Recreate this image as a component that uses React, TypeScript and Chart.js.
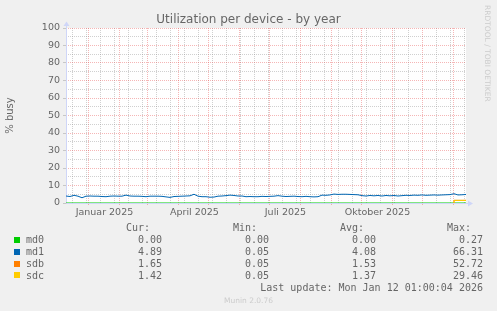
import { useEffect, useRef } from 'react';
import { Chart, registerables } from 'chart.js';

Chart.register(...registerables);

// ---------- data ----------
const titleText = 'Utilization per device - by year';
const yAxisTitle = '% busy';
const yMin = 0;
const yMax = 100;
const yStep = 5;

// x axis: days counted from 2024-12-08 01:00 (400 days window ending 2026-01-12 01:00)
const xMinDay = 1;
const xMaxDay = 401;
const xLabels = ['Januar 2025', 'April 2025', 'Juli 2025', 'Oktober 2025'];
const xLabelMonths: [number, number][] = [[2025, 0], [2025, 3], [2025, 6], [2025, 9]];
const gridMonths: [number, number][] = [
  [2025, 0], [2025, 1], [2025, 2], [2025, 3], [2025, 4], [2025, 5], [2025, 6],
  [2025, 7], [2025, 8], [2025, 9], [2025, 10], [2025, 11], [2026, 0],
];
const firstMinorMonday: [number, number, number] = [2024, 11, 16];
const minorEveryDays = 14;

// md1: one sample every 4 days starting at day 1
const md1Step = 4;
const md1Values = [
  4.0, 3.7, 4.4, 3.9, 3.0, 3.9, 4.0, 3.9, 3.9, 3.7,
  3.6, 3.9, 4.0, 3.9, 3.9, 4.5, 4.0, 3.9, 3.9, 3.8,
  3.6, 3.9, 3.9, 3.9, 3.8, 3.5, 3.2, 3.7, 3.8, 3.9,
  4.0, 4.1, 5.0, 3.9, 3.6, 3.6, 3.3, 3.4, 3.9, 4.0,
  4.2, 4.5, 4.3, 4.0, 4.0, 3.6, 3.7, 3.6, 3.6, 3.8,
  3.7, 3.8, 3.9, 4.2, 3.9, 3.7, 3.8, 3.9, 3.7, 3.6,
  3.8, 3.6, 3.5, 3.6, 4.5, 4.4, 4.6, 5.1, 4.9, 5.0,
  5.0, 4.9, 4.8, 4.7, 4.2, 4.0, 4.3, 4.1, 4.3, 4.0,
  4.3, 4.1, 4.3, 4.0, 4.2, 4.4, 4.3, 4.5, 4.4, 4.6,
  4.4, 4.5, 4.6, 4.5, 4.6, 4.7, 4.8, 5.3, 4.6, 4.7,
  4.89,
];
const md0Days = [1, 401];
const md0Values = [0, 0];
const sdbDays = [389, 389, 393, 397, 401];
const sdbValues = [0, 1.52, 1.52, 1.52, 1.55];
const sdcDays = [389, 389, 393, 397, 401];
const sdcValues = [0, 1.5, 1.5, 1.5, 1.45];

const seriesNames = ['md0', 'md1', 'sdb', 'sdc'];
const seriesColors = ['#00CC00', '#0066B3', '#FF8000', '#FFCC00'];
const curValues = [0.0, 4.89, 1.65, 1.42];
const minValues = [0.0, 0.05, 0.05, 0.05];
const avgValues = [0.0, 4.08, 1.53, 1.37];
const maxValues = [0.27, 66.31, 52.72, 29.46];
const lastUpdate = 'Last update: Mon Jan 12 01:00:04 2026';
const footer = 'Munin 2.0.76';
const sideText = 'RRDTOOL / TOBI OETIKER';

// ---------- helpers ----------
const START = Date.UTC(2024, 11, 8, 1, 0, 0);
const dayOf = (y: number, m: number, d: number) => (Date.UTC(y, m, d) - START) / 86400000;

const GRID = 'rgba(143,143,143,0.42)';
const MGRID = 'rgba(231,80,80,0.42)';
const AXIS = '#CFD6F8';
const FONT_COLOR = '#666666';

const axesPlugin = {
  id: 'rrdFrame',
  beforeDraw(chart: any) {
    const { ctx, chartArea } = chart;
    const { left, top, right, bottom } = chartArea;
    ctx.save();
    ctx.fillStyle = '#ffffff';
    ctx.fillRect(left, top, right - left, bottom - top);
    ctx.restore();
  },
  beforeDatasetsDraw(chart: any) {
    const { ctx, chartArea } = chart;
    const { left, top, right, bottom } = chartArea;
    const x0 = Math.round(left) + 0.5;
    const y0 = Math.round(bottom) + 0.5;
    ctx.save();
    ctx.strokeStyle = AXIS;
    ctx.fillStyle = AXIS;
    ctx.lineWidth = 1;
    ctx.beginPath();
    ctx.moveTo(x0, y0);
    ctx.lineTo(x0, top - 3);
    ctx.moveTo(x0, y0);
    ctx.lineTo(right + 3, y0);
    ctx.stroke();
    ctx.beginPath();
    ctx.moveTo(x0 - 3, top - 2);
    ctx.lineTo(x0 + 3, top - 2);
    ctx.lineTo(x0, top - 6.5);
    ctx.closePath();
    ctx.fill();
    ctx.beginPath();
    ctx.moveTo(right + 2, y0 - 3);
    ctx.lineTo(right + 2, y0 + 3);
    ctx.lineTo(right + 7, y0);
    ctx.closePath();
    ctx.fill();
    ctx.restore();
  },
};

export default function App() {
  const ref = useRef<HTMLCanvasElement>(null);

  useEffect(() => {
    const canvas = ref.current;
    if (!canvas) return;
    Chart.defaults.font.family = "'DejaVu Sans', sans-serif";

    const md1Days = md1Values.map((_, i) => xMinDay + md1Step * i);
    const pts = (xs: number[], ys: number[]) => ys.map((y, i) => ({ x: xs[i], y }));

    const majorDays = gridMonths.map(([y, m]) => dayOf(y, m, 1));
    const minorDays: number[] = [];
    for (let d = dayOf(...firstMinorMonday); d <= xMaxDay; d += minorEveryDays) minorDays.push(d);
    const gridTicks = [
      ...minorDays.filter((d) => !majorDays.some((m) => Math.abs(m - d) < 0.5)).map((v) => ({ value: v, major: false })),
      ...majorDays.map((v) => ({ value: v, major: true })),
    ].sort((a, b) => a.value - b.value);
    const labelDays = xLabelMonths.map(([y, m]) => dayOf(y, m, 1) + 15.5);

    const lineDs = (i: number, data: { x: number; y: number }[], order: number) => ({
      label: seriesNames[i],
      data,
      borderColor: seriesColors[i],
      backgroundColor: seriesColors[i],
      borderWidth: 1,
      pointRadius: 0,
      fill: false,
      tension: 0,
      order,
    });

    const chart = new Chart(canvas, {
      type: 'line',
      data: {
        datasets: [
          lineDs(0, pts(md0Days, md0Values), 3),
          lineDs(1, pts(md1Days, md1Values), 2),
          lineDs(2, pts(sdbDays, sdbValues), 1),
          lineDs(3, pts(sdcDays, sdcValues), 0),
        ],
      },
      options: {
        animation: false,
        responsive: false,
        maintainAspectRatio: false,
        devicePixelRatio: 1,
        layout: { padding: { left: 0, top: 28, right: 31, bottom: 88 } },
        plugins: { legend: { display: false }, tooltip: { enabled: false }, title: { display: false } },
        scales: {
          x: {
            type: 'linear',
            position: 'bottom',
            weight: 0,
            min: xMinDay,
            max: xMaxDay,
            afterBuildTicks: (s: any) => {
              s.ticks = gridTicks.map((t) => ({ ...t }));
            },
            afterFit: (s: any) => {
              s.height = 0;
            },
            ticks: { display: false },
            grid: {
              color: (c: any) => (c.tick && c.tick.major ? MGRID : GRID),
              lineWidth: 1,
              drawTicks: true,
              tickLength: 2,
              tickColor: (c: any) => (c.tick && c.tick.major ? MGRID : 'rgba(0,0,0,0)'),
            },
            border: { display: false, dash: [1, 1] },
          } as any,
          x2: {
            type: 'linear',
            position: 'bottom',
            weight: 10,
            min: xMinDay,
            max: xMaxDay,
            afterBuildTicks: (s: any) => {
              s.ticks = labelDays.map((v) => ({ value: v }));
            },
            afterFit: (s: any) => {
              s.height = 20;
            },
            ticks: {
              callback: (_v: any, i: number) => xLabels[i],
              font: { size: 9.5, family: "'DejaVu Sans', sans-serif" },
              color: FONT_COLOR,
              padding: 4,
              maxRotation: 0,
              autoSkip: false,
            },
            grid: { display: false, drawTicks: false },
            border: { display: false },
          } as any,
          y: {
            type: 'linear',
            min: yMin,
            max: yMax,
            afterFit: (s: any) => {
              s.width = 66;
            },
            ticks: {
              stepSize: yStep,
              autoSkip: false,
              callback: (v: any) => (Number(v) % 10 === 0 ? String(v) : ''),
              font: { size: 9.5, family: "'DejaVu Sans', sans-serif" },
              color: FONT_COLOR,
              padding: 3,
            },
            grid: {
              color: (c: any) => (c.tick && c.tick.value % 10 === 0 ? MGRID : GRID),
              lineWidth: 1,
              drawTicks: true,
              tickLength: 3,
              tickColor: (c: any) => (c.tick && c.tick.value % 10 === 0 ? GRID : 'rgba(0,0,0,0)'),
            },
            border: { display: false, dash: [1, 1] },
            title: {
              display: true,
              text: yAxisTitle,
              color: FONT_COLOR,
              font: { size: 10, family: "'DejaVu Sans', sans-serif" },
              padding: { top: 4, bottom: 0 },
            },
          } as any,
        },
      },
      plugins: [axesPlugin],
    } as any);

    return () => chart.destroy();
  }, []);

  const mono = "'DejaVu Sans Mono', monospace";
  const rowCenters = seriesNames.map((_, i) => 240 + 11.8 * i);
  const columns = [
    { head: 'Cur:', vals: curValues, right: 162 },
    { head: 'Min:', vals: minValues, right: 269 },
    { head: 'Avg:', vals: avgValues, right: 376 },
    { head: 'Max:', vals: maxValues, right: 483 },
  ];
  const txt = (content: string, top: number, right: number, key: string) => (
    <div
      key={key}
      style={{
        position: 'absolute',
        right: 497 - right,
        top,
        fontFamily: mono,
        fontSize: 10,
        lineHeight: '12px',
        color: FONT_COLOR,
        whiteSpace: 'pre',
      }}
    >
      {content}
    </div>
  );

  return (
    <div
      style={{
        position: 'absolute',
        left: 0,
        top: 0,
        width: 497,
        height: 311,
        background: '#F0F0F0',
        overflow: 'hidden',
      }}
    >
      <canvas ref={ref} width={497} height={311} style={{ position: 'absolute', left: 0, top: 0, width: 497, height: 311 }} />
      <div
        style={{
          position: 'absolute',
          left: 0,
          width: 497,
          top: 12,
          textAlign: 'center',
          fontFamily: "'DejaVu Sans', sans-serif",
          fontSize: 12,
          lineHeight: '14px',
          color: FONT_COLOR,
          whiteSpace: 'pre',
        }}
      >
        {titleText}
      </div>
      <div
        style={{
          position: 'absolute',
          left: 483,
          top: 5,
          width: 9,
          writingMode: 'vertical-rl',
          fontFamily: "'DejaVu Sans', sans-serif",
          fontSize: 7.5,
          lineHeight: '9px',
          color: '#CCCCCC',
          whiteSpace: 'pre',
        }}
      >
        {sideText}
      </div>
      {columns.map((c, ci) => txt(c.head, 227.5 - 5.8, c.right - 12, 'h' + ci))}
      {seriesNames.map((name, i) => (
        <div key={'r' + i}>
          <div
            style={{
              position: 'absolute',
              left: 14,
              top: Math.round(rowCenters[i] - 3),
              width: 6,
              height: 6,
              background: seriesColors[i],
            }}
          />
          <div
            style={{
              position: 'absolute',
              left: 26,
              top: rowCenters[i] - 5.8,
              fontFamily: mono,
              fontSize: 10,
              lineHeight: '12px',
              color: FONT_COLOR,
              whiteSpace: 'pre',
            }}
          >
            {name}
          </div>
          {columns.map((c, ci) => txt(c.vals[i].toFixed(2), rowCenters[i] - 5.8, c.right, 'v' + i + '_' + ci))}
        </div>
      ))}
      {txt(lastUpdate, 287.7 - 5.8, 483, 'lu')}
      <div
        style={{
          position: 'absolute',
          left: 0,
          width: 497,
          top: 296.3,
          textAlign: 'center',
          fontFamily: "'DejaVu Sans', sans-serif",
          fontSize: 7.5,
          lineHeight: '9px',
          color: '#CCCCCC',
          whiteSpace: 'pre',
        }}
      >
        {footer}
      </div>
    </div>
  );
}
